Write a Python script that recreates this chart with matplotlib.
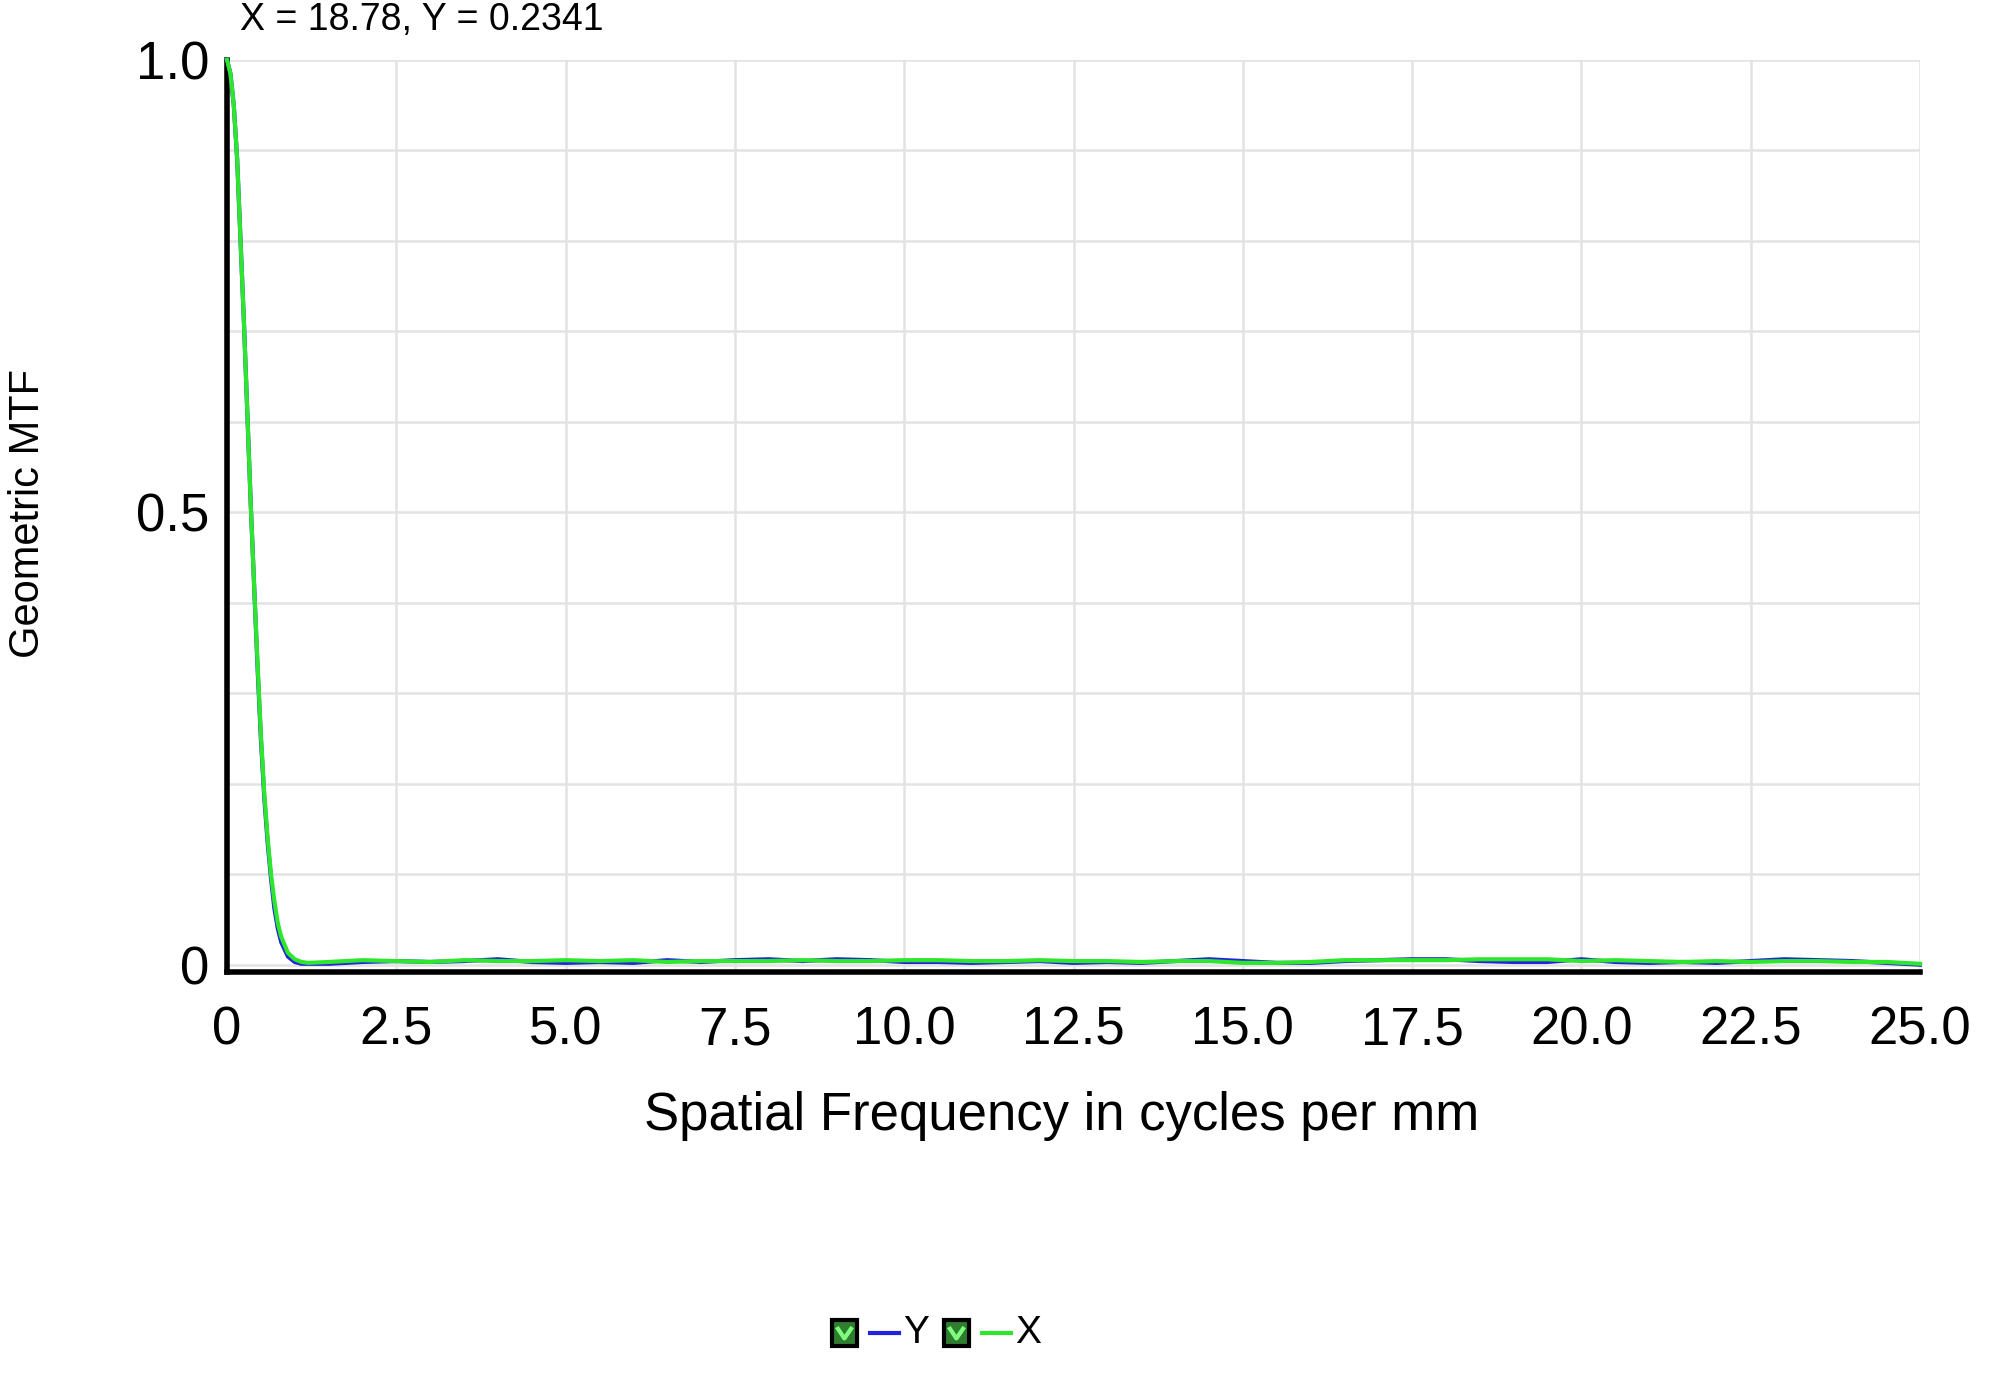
import matplotlib
matplotlib.use('Agg')
import matplotlib.pyplot as plt
from matplotlib.patches import Rectangle
from matplotlib.lines import Line2D

plt.rcParams['font.family'] = ['Liberation Sans', 'DejaVu Sans']

# spatial frequency samples (cycles per mm)
freq = [0, 0.05, 0.1, 0.15, 0.2, 0.25, 0.3, 0.35, 0.4, 0.45, 0.5, 0.55, 0.6,
        0.65, 0.7, 0.75, 0.8, 0.9, 1.0, 1.1, 1.2,
        1.5, 2.0, 2.5, 3.0, 3.5, 4.0, 4.5, 5.0, 5.5, 6.0, 6.5, 7.0, 7.5, 8.0,
        8.5, 9.0, 9.5, 10.0, 10.5, 11.0, 11.5, 12.0, 12.5, 13.0, 13.5, 14.0,
        14.5, 15.0, 15.5, 16.0, 16.5, 17.0, 17.5, 18.0, 18.5, 19.0, 19.5,
        20.0, 20.5, 21.0, 21.5, 22.0, 22.5, 23.0, 23.5, 24.0, 24.5, 25.0]

# MTF, Y direction (blue)
mtf_y = [1.0, 0.985, 0.95, 0.89, 0.80, 0.71, 0.61, 0.51, 0.42, 0.33, 0.25,
         0.185, 0.135, 0.095, 0.062, 0.04, 0.025, 0.009, 0.003, 0.001, 0.001,
         0.001, 0.003, 0.004, 0.003, 0.004, 0.006, 0.003, 0.002, 0.003, 0.002,
         0.005, 0.003, 0.005, 0.006, 0.004, 0.006, 0.005, 0.003, 0.003, 0.002,
         0.003, 0.004, 0.002, 0.003, 0.002, 0.004, 0.006, 0.004, 0.002, 0.002,
         0.004, 0.005, 0.006, 0.006, 0.004, 0.003, 0.003, 0.006, 0.003, 0.002,
         0.003, 0.002, 0.004, 0.006, 0.005, 0.004, 0.002, 0.0]

# MTF, X direction (green)
mtf_x = [1.0, 0.985, 0.95, 0.89, 0.80, 0.71, 0.61, 0.51, 0.42, 0.335, 0.255,
         0.19, 0.14, 0.10, 0.07, 0.046, 0.031, 0.013, 0.006, 0.003, 0.002,
         0.003, 0.005, 0.004, 0.003, 0.005, 0.004, 0.004, 0.005, 0.004, 0.005,
         0.003, 0.004, 0.004, 0.004, 0.005, 0.004, 0.004, 0.005, 0.005, 0.004,
         0.004, 0.005, 0.004, 0.004, 0.003, 0.004, 0.004, 0.002, 0.002, 0.003,
         0.005, 0.005, 0.005, 0.005, 0.006, 0.006, 0.006, 0.004, 0.005, 0.004,
         0.003, 0.004, 0.003, 0.004, 0.004, 0.003, 0.003, 0.001]

xticks = [0, 2.5, 5.0, 7.5, 10.0, 12.5, 15.0, 17.5, 20.0, 22.5, 25.0]
xtick_labels = ['0', '2.5', '5.0', '7.5', '10.0', '12.5', '15.0', '17.5',
                '20.0', '22.5', '25.0']
yticks = [0, 0.5, 1.0]
ytick_labels = ['0', '0.5', '1.0']
yminor = [0.1, 0.2, 0.3, 0.4, 0.6, 0.7, 0.8, 0.9]

blue = '#2323dd'
green = '#2ee62e'

fig = plt.figure(figsize=(20, 13.8), dpi=100)
ax = fig.add_axes([0.1135, 0.2957, 0.8465, 0.661])

ax.plot(freq, mtf_y, color=blue, lw=3, clip_on=False, zorder=3)
ax.plot(freq, mtf_x, color=green, lw=3, clip_on=False, zorder=4)

ax.set_xlim(0, 25)
ax.set_ylim(-0.008, 1.0)
ax.set_xticks(xticks)
ax.set_xticklabels(xtick_labels)
ax.set_yticks(yticks)
ax.set_yticklabels(ytick_labels)
ax.set_yticks(yminor, minor=True)
ax.tick_params(axis='both', which='both', length=0)
ax.tick_params(axis='x', labelsize=38, pad=24)
ax.tick_params(axis='y', labelsize=38, pad=13)
ax.grid(True, which='both', color='#e3e3e3', lw=1.8)
ax.set_axisbelow(True)

for s in ['top', 'right']:
    ax.spines[s].set_visible(False)
for s in ['left', 'bottom']:
    ax.spines[s].set_color('black')
    ax.spines[s].set_linewidth(4)

fig.text(0.12, 0.9855, 'X = 18.78, Y = 0.2341', fontsize=27, va='center', ha='left')
fig.text(0.014, 0.628, 'Geometric MTF', fontsize=30, rotation=90, va='center', ha='center')
fig.text(0.531, 0.191, 'Spatial Frequency in cycles per mm', fontsize=38, va='center', ha='center')

# legend with checkboxes
yc = 0.0341
for x0, col, lab in [(0.416, blue, 'Y'), (0.472, green, 'X')]:
    fig.add_artist(Rectangle((x0, yc - 0.0094), 0.0125, 0.0188, transform=fig.transFigure,
                             facecolor='#2f7d2f', edgecolor='black', lw=3))
    fig.add_artist(Line2D([x0 + 0.003, x0 + 0.0062, x0 + 0.0095],
                          [yc + 0.003, yc - 0.004, yc + 0.003],
                          transform=fig.transFigure, color='#7dff7d', lw=3))
    fig.add_artist(Line2D([x0 + 0.019, x0 + 0.0335], [yc, yc],
                          transform=fig.transFigure, color=col, lw=3))
    fig.text(x0 + 0.0355, yc, lab, fontsize=28, va='center', ha='left')

fig.savefig('out.png', dpi=100, facecolor='white')
